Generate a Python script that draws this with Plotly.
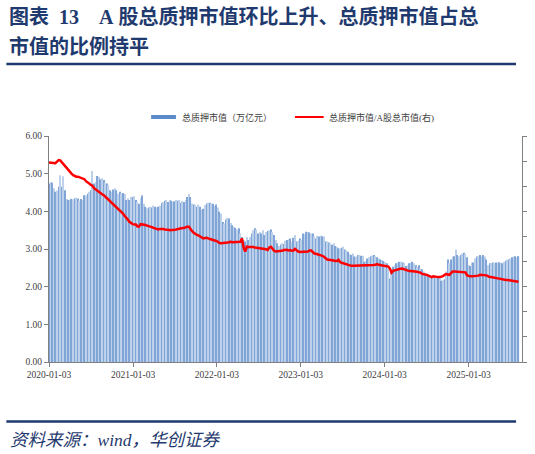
import pandas as pd
import plotly.graph_objects as go

# 周度数据, 起始 2020-01-03
start_date = "2020-01-03"

# 总质押市值(万亿元)
value_2020 = [4.74, 4.78, 4.76, 4.61, 4.52, 4.55, 4.65, 4.96, 4.65, 4.93,
              4.56, 4.33, 4.30, 4.30, 4.33, 4.32, 4.35, 4.36, 4.34, 4.28,
              4.33, 4.30, 4.43, 4.43, 4.47, 4.52, 4.56, 5.07, 4.74, 4.78,
              4.94, 4.92, 4.85, 4.88, 4.83, 4.76, 4.74, 4.70, 4.56, 4.52,
              4.58, 4.61, 4.56, 4.47, 4.52, 4.47, 4.49, 4.46, 4.30, 4.35,
              4.30, 4.39]
value_2021 = [4.38, 4.40, 4.30, 4.25, 4.20, 4.35, 4.42, 4.20, 4.12, 4.08, 4.10,
              4.12, 4.10, 4.15, 4.12, 4.10, 4.12, 4.15, 4.22, 4.25, 4.28,
              4.30, 4.25, 4.30, 4.28, 4.25, 4.27, 4.30, 4.28,
              4.30, 4.23, 4.28, 4.25, 4.30, 4.38, 4.46, 4.38, 4.21, 4.18,
              4.17, 4.12, 4.18, 4.12, 4.05, 4.07, 4.17, 4.21, 4.23, 4.23,
              4.21, 4.20, 4.14]
value_2022 = [4.18, 4.10, 3.99, 3.94, 3.72, 3.68, 3.78,
              3.83, 3.81, 3.69, 3.63, 3.59, 3.56, 3.52, 3.55, 3.41, 3.32,
              3.24, 3.20, 3.32, 3.24, 3.32, 3.41, 3.50, 3.55, 3.52, 3.41,
              3.45, 3.41, 3.50, 3.37, 3.45, 3.48, 3.50, 3.52, 3.45, 3.37, 3.24,
              3.15, 3.08, 3.12, 3.15, 3.13, 3.22, 3.24, 3.26, 3.28, 3.19,
              3.30, 3.37, 3.20, 3.22]
value_2023 = [3.28, 3.24, 3.41, 3.39, 3.46, 3.45,
              3.44, 3.41, 3.41, 3.33, 3.28, 3.35, 3.33, 3.35, 3.34, 3.33,
              3.20, 3.20, 3.17, 3.15, 3.11, 3.15, 3.08, 3.06, 3.02, 3.02,
              3.03, 3.06, 2.99, 2.97, 2.93, 2.86, 2.84, 2.88, 2.80, 2.80,
              2.84, 2.84, 2.82, 2.82, 2.66, 2.68,
              2.75, 2.78, 2.81, 2.83, 2.84, 2.81, 2.78, 2.75, 2.72, 2.71]
value_2024 = [2.68, 2.66, 2.62, 2.57, 2.22, 2.46, 2.53, 2.57, 2.62, 2.64,
              2.66, 2.66, 2.64, 2.62, 2.55, 2.57, 2.62, 2.64, 2.66, 2.62,
              2.57, 2.52, 2.57, 2.48, 2.46, 2.40, 2.35, 2.34, 2.31, 2.31,
              2.28, 2.25, 2.28, 2.26, 2.28, 2.25, 2.16, 2.18, 2.20, 2.40,
              2.72, 2.62, 2.72, 2.80, 2.81, 2.99, 2.84, 2.81, 2.84, 2.88,
              2.90, 2.87, 2.78]
value_2025 = [2.57, 2.55, 2.64, 2.64, 2.75, 2.80, 2.81,
              2.84, 2.81, 2.84, 2.80, 2.72, 2.57, 2.62, 2.62, 2.64, 2.63,
              2.64, 2.65, 2.64, 2.64, 2.62, 2.66, 2.69, 2.72, 2.72, 2.75,
              2.78, 2.80, 2.81, 2.78, 2.81]

# 总质押市值/A股总市值(%, 右轴)
ratio_2020 = [7.95, 7.94, 7.91, 7.92, 7.92, 7.98, 8.04, 8.03, 7.95, 7.86,
              7.80, 7.71, 7.65, 7.58, 7.50, 7.44, 7.40, 7.38, 7.38, 7.35,
              7.34, 7.31, 7.28, 7.20, 7.17, 7.11, 7.05, 7.02, 6.92, 6.87,
              6.81, 6.75, 6.71, 6.68, 6.65, 6.59, 6.54, 6.45, 6.41, 6.35,
              6.29, 6.23, 6.15, 6.11, 6.05, 5.97, 5.91, 5.82, 5.76, 5.67,
              5.58, 5.52]
ratio_2021 = [5.49,
              5.48, 5.48, 5.40, 5.40, 5.49, 5.48, 5.48, 5.46, 5.43, 5.42,
              5.40, 5.37, 5.34, 5.31, 5.30, 5.28,
              5.30, 5.31, 5.30, 5.28, 5.28, 5.27, 5.25, 5.25, 5.25, 5.27,
              5.28, 5.30, 5.31, 5.33, 5.34, 5.34, 5.37, 5.39, 5.39, 5.28,
              5.21, 5.15, 5.10, 5.06, 5.04, 5.01, 4.98, 4.92, 4.94, 4.95,
              4.92, 4.91, 4.88, 4.86, 4.85]
ratio_2022 = [4.82, 4.79, 4.74, 4.73, 4.73,
              4.73, 4.74, 4.76, 4.77, 4.79, 4.77, 4.77, 4.79, 4.79, 4.79,
              4.79, 4.92, 4.56, 4.40, 4.59, 4.58, 4.59, 4.58, 4.58, 4.56,
              4.55, 4.55, 4.53, 4.52, 4.50, 4.52, 4.49, 4.46, 4.56, 4.59,
              4.50, 4.43, 4.40, 4.40, 4.40, 4.41, 4.43, 4.46, 4.46, 4.47,
              4.44, 4.46, 4.43, 4.44, 4.50, 4.43, 4.40]
ratio_2023 = [4.38, 4.38, 4.40,
              4.40, 4.40, 4.40, 4.44, 4.44, 4.38, 4.32, 4.31, 4.29, 4.29,
              4.28, 4.23, 4.19, 4.13, 4.08, 4.07, 4.07, 4.05, 4.04, 4.02,
              4.02, 4.07, 3.98, 3.95, 3.93, 3.92, 3.89, 3.86, 3.83, 3.83,
              3.83, 3.83, 3.83, 3.83, 3.83, 3.83, 3.84, 3.84, 3.86,
              3.83, 3.83, 3.84, 3.86, 3.86, 3.87, 3.90, 3.87, 3.86, 3.86]
ratio_2024 = [3.84, 3.83, 3.83, 3.80, 3.72, 3.56, 3.63, 3.65, 3.66, 3.68,
              3.69, 3.72, 3.71, 3.68, 3.65, 3.63, 3.62, 3.62, 3.62, 3.62,
              3.60, 3.59, 3.57, 3.56, 3.51, 3.50, 3.48, 3.47, 3.44, 3.42,
              3.38, 3.41, 3.39, 3.39, 3.38, 3.38, 3.39, 3.42, 3.47, 3.50,
              3.48, 3.47, 3.54, 3.60, 3.60, 3.60, 3.60, 3.60, 3.59, 3.59,
              3.60, 3.57, 3.45]
ratio_2025 = [3.42, 3.41, 3.41, 3.41, 3.42, 3.42, 3.44,
              3.47, 3.47, 3.47, 3.47, 3.45, 3.42, 3.38, 3.38, 3.36, 3.35,
              3.33, 3.33, 3.32, 3.30, 3.29, 3.29, 3.27, 3.27, 3.27, 3.26,
              3.24, 3.23, 3.21, 3.20, 3.20]

tick_dates = ["2020-01-03", "2021-01-03", "2022-01-03",
              "2023-01-03", "2024-01-03", "2025-01-03"]

pledge_value = value_2020 + value_2021 + value_2022 + value_2023 + value_2024 + value_2025
pledge_ratio = ratio_2020 + ratio_2021 + ratio_2022 + ratio_2023 + ratio_2024 + ratio_2025
dates = pd.date_range(start_date, periods=len(pledge_value), freq="7D")

# 画布与像素换算
W, H = 535, 454
ML, MR, MT, MB = 49, 9, 136, 92


def px(x):
    return (x - ML) / (W - ML - MR)


def py(y):
    return (H - MB - y) / (H - MT - MB)


NAVY = "#1f3a6e"
FONT = "Liberation Serif, Noto Sans CJK SC"
BAR_C = "#5b8bc9"
# 细柱交替深浅, 模拟原图条纹
bar_colors = ["#7ea4d6" if i % 2 == 0 else "#bdd0ea" for i in range(len(pledge_value))]

fig = go.Figure()
fig.add_trace(go.Bar(x=dates, y=pledge_value, name="总质押市值（万亿元）",
                     marker=dict(color=bar_colors, opacity=0.99, line=dict(width=0))))
fig.add_trace(go.Scatter(x=dates, y=pledge_ratio, yaxis="y2", mode="lines",
                         name="总质押市值/A股总市值(右)",
                         line=dict(color="#ff0000", width=2.5)))

shapes = [
    dict(type="line", xref="paper", yref="paper", x0=px(6), x1=px(520),
         y0=py(64), y1=py(64), line=dict(color=NAVY, width=2.5)),
    dict(type="line", xref="paper", yref="paper", x0=px(6), x1=px(520),
         y0=py(421.5), y1=py(421.5), line=dict(color=NAVY, width=2.5)),
    # 图例
    dict(type="rect", xref="paper", yref="paper", x0=px(152), x1=px(177),
         y0=py(119), y1=py(115), fillcolor=BAR_C, line=dict(width=0)),
    dict(type="line", xref="paper", yref="paper", x0=px(297), x1=px(326),
         y0=py(117), y1=py(117), line=dict(color="#ff0000", width=2)),
]

nb = "\u00a0"
annotations = [
    dict(text="<b>图表" + nb * 2 + "13" + nb * 4 + "A" + nb + "股总质押市值环比上升、总质押市值占总</b>",
         x=px(7), y=py(17), xref="paper", yref="paper", xanchor="left", yanchor="middle",
         showarrow=False, font=dict(size=20, color=NAVY, family=FONT)),
    dict(text="<b>市值的比例持平</b>",
         x=px(7), y=py(47), xref="paper", yref="paper", xanchor="left", yanchor="middle",
         showarrow=False, font=dict(size=20, color=NAVY, family=FONT)),
    dict(text="总质押市值（万亿元）", x=px(181), y=py(117), xref="paper", yref="paper",
         xanchor="left", yanchor="middle", showarrow=False,
         font=dict(size=9, color="#404040", family=FONT)),
    dict(text="总质押市值/A股总市值(右)", x=px(329), y=py(117), xref="paper", yref="paper",
         xanchor="left", yanchor="middle", showarrow=False,
         font=dict(size=9, color="#404040", family=FONT)),
    dict(text="<i>资料来源：wind，华创证券</i>", x=px(8), y=py(440), xref="paper", yref="paper",
         xanchor="left", yanchor="middle", showarrow=False,
         font=dict(size=17.5, color=NAVY, family=FONT)),
]

axis_font = dict(size=9.5, color="#404040", family=FONT)
fig.update_layout(
    width=W, height=H,
    margin=dict(l=ML, r=MR, t=MT, b=MB),
    paper_bgcolor="white", plot_bgcolor="white",
    showlegend=False, bargap=0.3,
    xaxis=dict(type="date", range=["2020-01-03", "2025-08-23"],
               tickvals=tick_dates, ticktext=tick_dates,
               ticks="outside", ticklen=4, tickcolor="#808080",
               showline=True, linecolor="#808080", linewidth=1,
               showgrid=False, zeroline=False, tickfont=axis_font),
    yaxis=dict(range=[0, 6], dtick=1, tickformat=".2f",
               ticks="outside", ticklen=4, tickcolor="#808080",
               showline=True, linecolor="#808080", linewidth=1,
               showgrid=False, zeroline=False, tickfont=axis_font),
    yaxis2=dict(overlaying="y", side="right", range=[0, 9], dtick=1,
                showticklabels=False, ticks="outside", ticklen=4, tickcolor="#808080",
                showline=True, linecolor="#808080", linewidth=1,
                showgrid=False, zeroline=False),
    shapes=shapes, annotations=annotations,
)

# 去掉页面默认边距, 让图正好占满窗口
fig.write_html("out.html", config={"displayModeBar": False},
               post_script="document.body.style.margin='0';")
